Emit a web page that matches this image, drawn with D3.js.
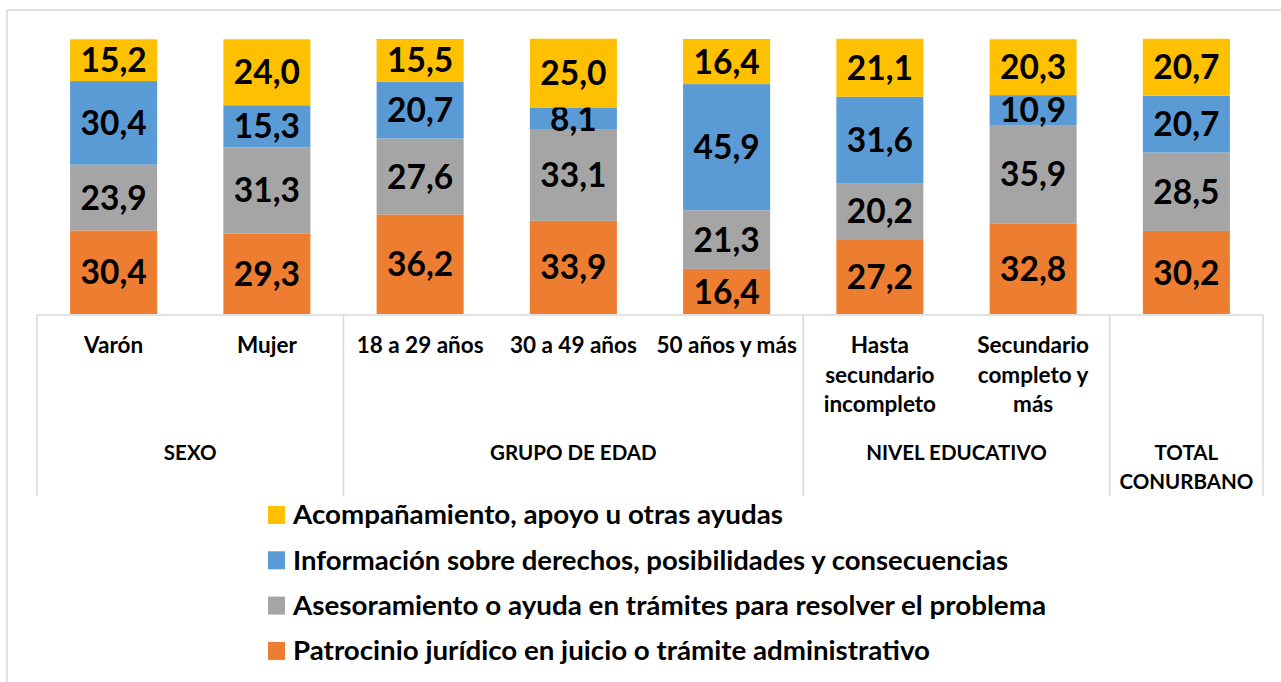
<!DOCTYPE html>
<html lang="es">
<head>
<meta charset="utf-8">
<script src="https://cdn.jsdelivr.net/npm/d3@7"></script>
<style>
  html, body { margin: 0; padding: 0; background: #fff; overflow: hidden; }
  svg { display: block; font-family: Lato, "Open Sans", sans-serif; font-weight: bold; }
</style>
</head>
<body>
<svg id="chart" width="1281" height="682"></svg>
<script>
// Categories (bottom axis), their grouping and the stacked series
const categories = ["Varón", "Mujer", "18 a 29 años", "30 a 49 años", "50 años y más",
  "Hasta secundario incompleto", "Secundario completo y más", "Total"];
const categoryLines = [["Varón"], ["Mujer"], ["18 a 29 años"], ["30 a 49 años"], ["50 años y más"],
  ["Hasta", "secundario", "incompleto"], ["Secundario", "completo y", "más"], []];
const groups = [
  { name: ["SEXO"], from: 0, to: 1 },
  { name: ["GRUPO DE EDAD"], from: 2, to: 4 },
  { name: ["NIVEL EDUCATIVO"], from: 5, to: 6 },
  { name: ["TOTAL", "CONURBANO"], from: 7, to: 7 }
];

const seriesNames = [
  "Patrocinio jurídico en juicio o trámite administrativo",
  "Asesoramiento o ayuda en trámites para resolver el problema",
  "Información sobre derechos, posibilidades y consecuencias",
  "Acompañamiento, apoyo u otras ayudas"
];
const patrocinio     = [30.4, 29.3, 36.2, 33.9, 16.4, 27.2, 32.8, 30.2];
const asesoramiento  = [23.9, 31.3, 27.6, 33.1, 21.3, 20.2, 35.9, 28.5];
const informacion    = [30.4, 15.3, 20.7, 8.1, 45.9, 31.6, 10.9, 20.7];
const acompanamiento = [15.2, 24.0, 15.5, 25.0, 16.4, 21.1, 20.3, 20.7];
const seriesValues = [patrocinio, asesoramiento, informacion, acompanamiento];
const seriesColors = ["#ED7D31", "#A5A5A5", "#5B9BD5", "#FFC000"];

const svg = d3.select("#chart");
const lineColor = "#D9D9D9";

// Chart frame
svg.append("rect")
  .attr("x", 7).attr("y", 10).attr("width", 1300).attr("height", 700)
  .attr("fill", "none").attr("stroke", lineColor).attr("stroke-width", 1.5);

const x = d3.scaleBand().domain(categories).range([37, 1263])
  .paddingInner(0.432).paddingOuter(0.216);
const y = d3.scaleLinear().domain([0, 100]).range([314, 39]);

// Stack the series
const rows = categories.map((c, i) => {
  const r = { cat: c };
  seriesNames.forEach((s, k) => { r[s] = seriesValues[k][i]; });
  return r;
});
const stacked = d3.stack().keys(seriesNames)(rows);

const layers = svg.append("g").selectAll("g").data(stacked).join("g")
  .attr("fill", (d, k) => seriesColors[k]);

layers.selectAll("rect").data(d => d).join("rect")
  .attr("x", d => x(d.data.cat))
  .attr("width", x.bandwidth())
  .attr("y", d => y(d[1]))
  .attr("height", d => y(d[0]) - y(d[1]));

layers.selectAll("text").data(d => d).join("text")
  .attr("x", d => x(d.data.cat) + x.bandwidth() / 2)
  .attr("y", d => (y(d[0]) + y(d[1])) / 2)
  .attr("dy", "0.36em")
  .attr("text-anchor", "middle")
  .attr("fill", "#000")
  .attr("font-size", 33.5)
  .text(d => d3.format(".1f")(d[1] - d[0]).replace(".", ","));

// Category axis: baseline and group separators
const step = x.step();
const left = x.range()[0], right = x.range()[1];
svg.append("line").attr("x1", left).attr("x2", right).attr("y1", 315).attr("y2", 315)
  .attr("stroke", lineColor).attr("stroke-width", 1.5);
const seps = [0].concat(groups.map(g => g.to + 1));
svg.append("g").selectAll("line").data(seps).join("line")
  .attr("x1", i => left + i * step).attr("x2", i => left + i * step)
  .attr("y1", 315).attr("y2", 496)
  .attr("stroke", lineColor).attr("stroke-width", 1.5);

// Category labels
const catG = svg.append("g").attr("font-size", 22.5).attr("text-anchor", "middle");
categories.forEach((c, i) => {
  catG.append("text")
    .attr("x", x(c) + x.bandwidth() / 2)
    .attr("y", 353)
    .selectAll("tspan").data(categoryLines[i]).join("tspan")
    .attr("x", x(c) + x.bandwidth() / 2)
    .attr("dy", (d, j) => j === 0 ? 0 : 29.5)
    .text(d => d);
});

// Group labels
const grpG = svg.append("g").attr("font-size", 20.5).attr("text-anchor", "middle");
groups.forEach(g => {
  const cx = left + ((g.from + g.to + 1) / 2) * step;
  grpG.append("text").attr("x", cx).attr("y", 460)
    .selectAll("tspan").data(g.name).join("tspan")
    .attr("x", cx)
    .attr("dy", (d, j) => j === 0 ? 0 : 28.5)
    .text(d => d);
});

// Legend (top series first)
const legendOrder = [3, 2, 1, 0];
const legendWidths = [490, 715, 753, 637];
const leg = svg.append("g").attr("font-size", 26);
legendOrder.forEach((k, r) => {
  const cy = 515 + r * 45.3;
  leg.append("rect").attr("x", 268).attr("y", cy - 9).attr("width", 17).attr("height", 18)
    .attr("fill", seriesColors[k]);
  leg.append("text").attr("x", 293).attr("y", cy).attr("dy", "0.36em")
    .attr("textLength", legendWidths[r]).attr("lengthAdjust", "spacingAndGlyphs")
    .text(seriesNames[k]);
});
</script>
</body>
</html>
